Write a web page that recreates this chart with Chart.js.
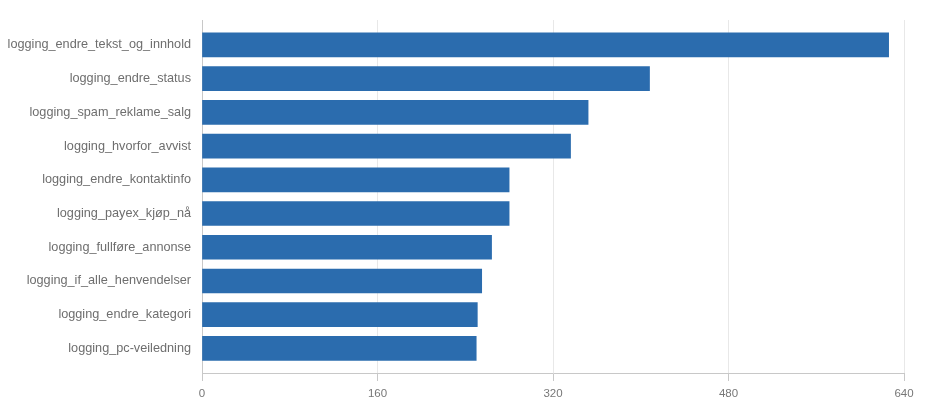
<!DOCTYPE html>
<html>
<head>
<meta charset="utf-8">
<script src="https://cdn.jsdelivr.net/npm/chart.js@4/dist/chart.umd.min.js"></script>
<style>
  html, body { margin: 0; padding: 0; background: #fff; }
  #wrap { width: 930px; height: 406px; }
</style>
</head>
<body>
<div id="wrap"><canvas id="chart"></canvas></div>
<script>
// ── Data ──────────────────────────────────────
const categories = [
  'logging_endre_tekst_og_innhold',
  'logging_endre_status',
  'logging_spam_reklame_salg',
  'logging_hvorfor_avvist',
  'logging_endre_kontaktinfo',
  'logging_payex_kjøp_nå',
  'logging_fullføre_annonse',
  'logging_if_alle_henvendelser',
  'logging_endre_kategori',
  'logging_pc-veiledning',
];
const counts = [626, 408, 352, 336, 280, 280, 264, 255, 251, 250];
const xTicks = [0, 160, 320, 480, 640];

// ── Styles ────────────────────────────────────
const BAR_COLOR  = '#2b6cae';
const GRID_COLOR = '#e8e8e8';
const AXIS_COLOR = '#c8c8c8';
const FONT_FAMILY = "'Liberation Sans', Arial, sans-serif";

const ctx = document.getElementById('chart').getContext('2d');

new Chart(ctx, {
  type: 'bar',
  data: {
    datasets: [{
      data: counts.map((v, i) => ({ x: v, y: i })),
      backgroundColor: BAR_COLOR,
      borderWidth: 0,
      barThickness: 24,
    }],
  },
  options: {
    indexAxis: 'y',
    responsive: true,
    maintainAspectRatio: false,
    animation: false,
    layout: { padding: { top: 20, right: 26, left: 0, bottom: 0 } },
    plugins: {
      legend: { display: false },
      tooltip: { enabled: false },
    },
    scales: {
      x: {
        type: 'linear',
        min: xTicks[0],
        max: xTicks[xTicks.length - 1],
        afterBuildTicks: s => { s.ticks = xTicks.map(v => ({ value: v })); },
        grid: { color: GRID_COLOR, tickColor: AXIS_COLOR, tickLength: 8 },
        border: { display: true, color: AXIS_COLOR },
        ticks: { color: '#777', font: { family: FONT_FAMILY, size: 11.5 }, padding: 6, maxRotation: 0 },
        afterFit: s => { s.height = 33; },
      },
      y: {
        type: 'linear',
        reverse: true,
        offset: false,
        min: -0.74,
        max: categories.length - 1 + 0.73,
        afterBuildTicks: s => { s.ticks = categories.map((_, i) => ({ value: i })); },
        grid: { display: false },
        border: { display: true, color: AXIS_COLOR },
        ticks: {
          color: '#6e6e6e',
          font: { family: FONT_FAMILY, size: 12.7 },
          padding: 3,
          autoSkip: false,
          callback: v => categories[v],
        },
        afterFit: s => { s.width = 202; },
      },
    },
  },
});
</script>
</body>
</html>
